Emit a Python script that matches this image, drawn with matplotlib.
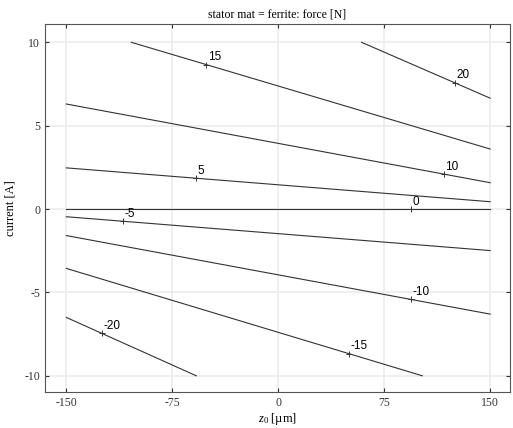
import numpy as np
import matplotlib
matplotlib.use("Agg")
import matplotlib.pyplot as plt

plt.rcParams['font.family'] = ['Liberation Serif', 'DejaVu Serif']
plt.rcParams['mathtext.fontset'] = 'custom'
plt.rcParams['mathtext.it'] = 'Liberation Serif:italic'
plt.rcParams['mathtext.rm'] = 'Liberation Serif'
plt.rcParams['axes.unicode_minus'] = False

# contour levels of the force [N], each read as a straight segment
levels = [20, 15, 10, 5, 0, -5, -10, -15, -20]
z_start = [59, -104, -150, -150, -150, -150, -150, -150, -150]
i_start = [10.0, 10.0, 6.3, 2.47, 0.0, -0.46, -1.59, -3.56, -6.5]
z_end = [150, 150, 150, 150, 150, 150, 150, 102, -58]
i_end = [6.65, 3.6, 1.58, 0.44, 0.0, -2.49, -6.3, -10.0, -10.0]
# where the "+" label marks sit along each line
label_z = [125, -51, 117, -58, 94, -110, 94, 50, -125]

z_ticks = [-150, -75, 0, 75, 150]
i_ticks = [-10, -5, 0, 5, 10]

fig = plt.figure(figsize=(5.13, 4.28), dpi=100)
ax = fig.add_axes([0.088, 0.083, 0.906, 0.861])

for t in z_ticks:
    ax.axvline(t, color='#ececec', lw=1.2, zorder=0)
for t in i_ticks:
    ax.axhline(t, color='#ececec', lw=1.2, zorder=0)

for lev, z0, i0, z1, i1, lz in zip(levels, z_start, i_start, z_end, i_end, label_z):
    ax.plot([z0, z1], [i0, i1], color='#333333', lw=0.8)
    li = np.interp(lz, [z0, z1], [i0, i1])
    ax.plot(lz, li, marker='+', color='#333333', ms=5, mew=0.7)
    ax.annotate(str(lev), (lz, li), xytext=(1, 1), textcoords='offset points',
                ha='left', va='bottom', fontsize=8.5, family='Liberation Sans')

ax.set_xlim(-165, 164)
ax.set_ylim(-11, 11.1)
ax.set_xticks(z_ticks)
ax.set_yticks(i_ticks)
ax.tick_params(direction='in', top=True, right=True, length=3, labelsize=8.5,
               colors='#333333')
for s in ax.spines.values():
    s.set_color('#555555')
    s.set_linewidth(0.8)

ax.set_title('stator mat = ferrite: force [N]', fontsize=8.5, pad=5)
ax.set_xlabel(r'$z_0$ [µm]', fontsize=9, labelpad=1)
ax.set_ylabel('current [A]', fontsize=9, labelpad=6)

fig.savefig('out.png', dpi=100)
